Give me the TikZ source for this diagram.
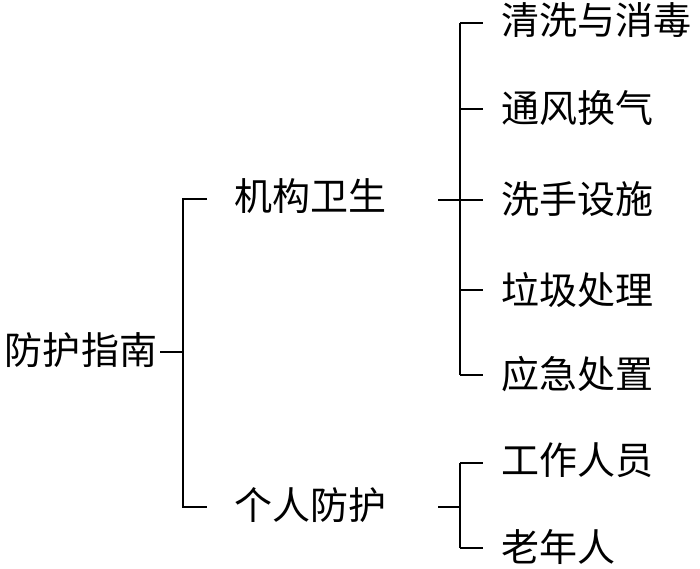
\documentclass[tikz,border=0pt]{standalone}
\usepackage{fontspec}
\newfontfamily\cjk{Noto Sans CJK SC}
\begin{document}
\begin{tikzpicture}[x=1pt,y=-1pt,
  line width=2pt,
  lbl/.style={anchor=base west, inner sep=0pt, font=\cjk\fontsize{38}{38}\selectfont},
  conn/.style={draw=black, line width=2pt}]
\useasboundingbox (0,0) rectangle (700,569);
% nodes
\node[lbl] (root) at (4,364) {防护指南};
\node[lbl] (a) at (233,211) {机构卫生};
\node[lbl] (b) at (233,519) {个人防护};
\node[lbl] (a1) at (500,35) {清洗与消毒};
\node[lbl] (a2) at (500,123) {通风换气};
\node[lbl] (a3) at (500,214) {洗手设施};
\node[lbl] (a4) at (500,304) {垃圾处理};
\node[lbl] (a5) at (500,388) {应急处置};
\node[lbl] (b1) at (500,474) {工作人员};
\node[lbl] (b2) at (500,561) {老年人};
% junctions
\coordinate (r0) at (160,352);
\coordinate (j0) at (183,352);
\coordinate (j0a) at (183,199);
\coordinate (j0b) at (183,507);
\coordinate (t0a) at (207,199);
\coordinate (t0b) at (207,507);
\coordinate (s1) at (438,200);
\coordinate (j1) at (460,200);
\coordinate (j1t) at (460,23);
\coordinate (j1b) at (460,375);
\coordinate (s2) at (438,507);
\coordinate (j2) at (460,507);
\coordinate (j2t) at (460,463);
\coordinate (j2b) at (460,548);
% connectors
\draw[conn] (r0) -- (j0);
\draw[conn] (t0a) -- (j0a) -- (j0b) -- (t0b);
\draw[conn] (s1) -- (j1);
\draw[conn] (j1t) -- (j1b);
\foreach \y in {23,109,200,290,375}{\draw[conn] (460,\y) -- (483,\y);}
\draw[conn] (s2) -- (j2);
\draw[conn] (j2t) -- (j2b);
\foreach \y in {463,548}{\draw[conn] (460,\y) -- (483,\y);}
\end{tikzpicture}
\end{document}
